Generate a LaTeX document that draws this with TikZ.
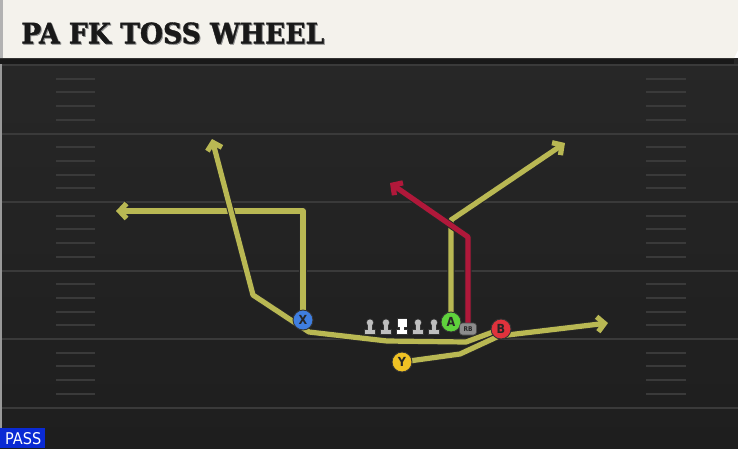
\documentclass[tikz,border=0pt]{standalone}
\usepackage{fontspec}
\usetikzlibrary{arrows.meta}
\newfontfamily\titlefont{DejaVu Serif Condensed}[FakeBold=1.2]
\newfontfamily\lblfont{DejaVu Sans Condensed}
\definecolor{fieldtop}{HTML}{272727}
\definecolor{fieldbot}{HTML}{1E1E1E}
\definecolor{yardline}{HTML}{3A3A3A}
\definecolor{titlebg}{HTML}{F4F2EC}
\definecolor{routeY}{HTML}{B9B853}
\definecolor{routeR}{HTML}{B0183A}
\definecolor{pX}{HTML}{3F7EE0}
\definecolor{pA}{HTML}{5FD23C}
\definecolor{pB}{HTML}{E0323C}
\definecolor{pY}{HTML}{F0C224}
\definecolor{passblue}{HTML}{0A2AD4}
\pgfdeclarelayer{field}
\pgfdeclarelayer{routes}
\pgfsetlayers{field,routes,main}
\tikzset{
  player/.style={circle, draw=black!80, line width=0.9pt, minimum size=20pt, inner sep=0pt,
    font=\lblfont\bfseries\fontsize{12.5}{12.5}\selectfont, text=black!85},
  rbbox/.style={rounded corners=3pt, fill=black!45, draw=black!70, line width=0.6pt,
    minimum width=17pt, minimum height=12pt, inner sep=0pt,
    font=\lblfont\bfseries\fontsize{6.5}{6.5}\selectfont, text=black!85},
  route/.style={draw=routeY, line width=5.2pt, line join=round,
    preaction={draw=black!85, line width=7.2pt}},
  redroute/.style={route, draw=routeR},
  tip/.style={-{Straight Barb[length=7pt,width=15pt]}},
  hash/.style={draw=yardline, line width=2pt},
  lineman/.pic={
    \fill[black!80] (-5.8,8.6) rectangle (5.8,3.4);
    \fill[black!80] (-2.6,-1) rectangle (2.6,8.6);
    \fill[black!80] (0,-3.4) circle (4.1);
    \fill[black!25] (-4.9,7.8) rectangle (4.9,4.1);
    \fill[black!25] (-1.7,-1) rectangle (1.7,7.5);
    \fill[black!25] (0,-3.4) circle (3.2);
  },
  centerman/.pic={
    \fill[black!80] (-5.8,8.6) rectangle (5.8,3.4);
    \fill[black!80] (-2.6,-1) rectangle (2.6,8.6);
    \fill[black!80] (-5.3,-8) rectangle (5.3,1.5);
    \fill[white] (-4.9,7.8) rectangle (4.9,4.1);
    \fill[white] (-1.7,-1) rectangle (1.7,7.5);
    \fill[white] (-4.5,-7.2) rectangle (4.5,0.8);
  }
}
\begin{document}
\begin{tikzpicture}[x=1pt,y=-1pt]
\useasboundingbox (0,0) rectangle (738,448);
% players and line
\node[player, fill=pX] (X) at (303,320) {X};
\node[player, fill=pA] (A) at (451,322) {A};
\node[player, fill=pB] (B) at (501,329) {B};
\node[player, fill=pY] (Y) at (402,362) {Y};
\node[rbbox] (RB) at (468,329) {RB};
\pic at (370,326) {lineman};
\pic at (386,326) {lineman};
\pic at (402,326) {centerman};
\pic at (418,326) {lineman};
\pic at (434,326) {lineman};
% route points
\coordinate (xc) at (303,211);
\coordinate (xe) at (116,211);
\coordinate (ac) at (451,220);
\coordinate (ae) at (565,143);
\coordinate (rc) at (468,237);
\coordinate (re) at (390,183);
\coordinate (b1) at (466,342);
\coordinate (b2) at (387,341);
\coordinate (b3) at (309,332);
\coordinate (b4) at (253,295);
\coordinate (be) at (212,139);
\coordinate (y1) at (460,354);
\coordinate (y2) at (499,336);
\coordinate (ye) at (608,323);
\begin{pgfonlayer}{field}
  \shade[top color=fieldtop, bottom color=fieldbot] (0,58) rectangle (738,448);
  \fill[black!40] (0,58) rectangle (2,448);
  \foreach \k in {0,...,5}{
    \draw[yardline, line width=2pt] (2,65+68.5*\k) -- (738,65+68.5*\k);
  }
  \foreach \k in {0,...,4}{
    \foreach \j in {1,...,4}{
      \draw[hash] (56,65+68.5*\k+13.7*\j) -- (95,65+68.5*\k+13.7*\j);
      \draw[hash] (646,65+68.5*\k+13.7*\j) -- (686,65+68.5*\k+13.7*\j);
    }
  }
  % title bar
  \fill[black!90] (0,57) rectangle (734,64);
  \fill[titlebg] (0,0) -- (738,0) -- (738,50) -- (734,58) -- (0,58) -- cycle;
  \fill[black!30] (0,0) rectangle (3,58);
  \node[anchor=south west, inner sep=0pt, text=black!45] (titleshadow) at (22,45)
    {\resizebox{303pt}{21pt}{\titlefont\bfseries PA FK TOSS WHEEL}};
  \node[anchor=south west, inner sep=0pt, text=black!90] (title) at (21,44)
    {\resizebox{303pt}{21pt}{\titlefont\bfseries PA FK TOSS WHEEL}};
  % pass label
  \node[anchor=south west, fill=passblue, minimum width=45pt, minimum height=20pt,
    inner sep=0pt] (pass) at (0,448) {};
  \node[anchor=south west, inner sep=0pt, text=white] (passtxt) at (5,445)
    {\resizebox{36pt}{12pt}{\lblfont PASS}};
\end{pgfonlayer}
\begin{pgfonlayer}{routes}
  \draw[route, tip] (X.center) -- (xc) -- (xe);
  \draw[route, tip] (A.center) -- (ac) -- (ae);
  \draw[redroute, tip] (RB.center) -- (rc) -- (re);
  \draw[route, tip] (B.center) -- (b1) -- (b2) -- (b3) -- (b4) -- (be);
  \draw[route, tip] (Y.center) -- (y1) -- (y2) -- (ye);
\end{pgfonlayer}
\end{tikzpicture}
\end{document}
